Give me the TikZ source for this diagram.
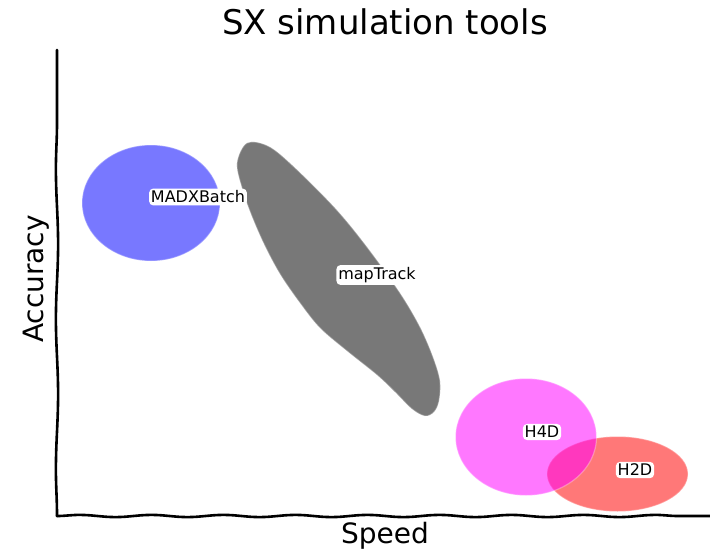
\documentclass[tikz,border=0pt]{standalone}
\usepackage{fontspec}
\setmainfont{DejaVu Sans}
\usetikzlibrary{decorations.pathmorphing}

\definecolor{toolblue}{RGB}{0,0,255}
\definecolor{toolgray}{RGB}{0,0,0}
\definecolor{toolred}{RGB}{255,0,0}
\definecolor{toolmag}{RGB}{255,0,255}

\begin{document}
\begin{tikzpicture}[x=1pt, y=-1pt,
  axisline/.style={line width=2.6pt, line cap=round, decorate},
  blob/.style={fill opacity=0.53, draw=white, draw opacity=0.3, line width=1.2pt},
  tagtext/.style={font=\fontsize{16}{18}\selectfont, fill=white,
    rounded corners=4pt, inner xsep=1.8pt, inner ysep=2.2pt},
  bigtext/.style={font=\fontsize{28}{32}\selectfont, inner sep=0pt, anchor=base},
]
\useasboundingbox (0,0) rectangle (710,551);

% axes
\coordinate (origin) at (57,516);
\coordinate (ytop) at (57,50);
\coordinate (xend) at (712,516);
\draw[axisline, decoration={snake, segment length=150pt, amplitude=1.1pt}]
  (origin) -- (ytop);
\draw[axisline, decoration={snake, segment length=72pt, amplitude=1.1pt}]
  (origin) -- (xend);

% tool regions
\path[blob, fill=toolblue] (151,203) ellipse [x radius=69, y radius=58];
\path[blob, fill=toolgray] plot[smooth cycle, tension=0.55] coordinates {
  (247,143) (268,146) (292,165) (335,208) (367,247) (400,293)
  (420,327) (433,357) (440,381) (439,401) (434,412) (425,416) (412,409)
  (395,392) (377,375) (347,351) (320,328) (300,303) (280,274) (264,244)
  (251,214) (242,188) (237,163)};
\path[blob, fill=toolred] (617.5,474) ellipse [x radius=70.5, y radius=37.5];
\path[blob, fill=toolmag] (526,437) ellipse [x radius=70.5, y radius=58.5];

% region labels
\node[tagtext] (madx) at (198,197) {MADXBatch};
\node[tagtext] (maptrack) at (377,275) {mapTrack};
\node[tagtext] (hfour) at (542,432) {H4D};
\node[tagtext] (htwo) at (635,470) {H2D};

% title and axis labels
\node[bigtext, font=\fontsize{34}{38}\selectfont] (title) at (385,35) {SX simulation tools};
\node[bigtext] (xlabel) at (385,543) {Speed};
\node[bigtext, rotate=90] (ylabel) at (43,279) {Accuracy};
\end{tikzpicture}
\end{document}
